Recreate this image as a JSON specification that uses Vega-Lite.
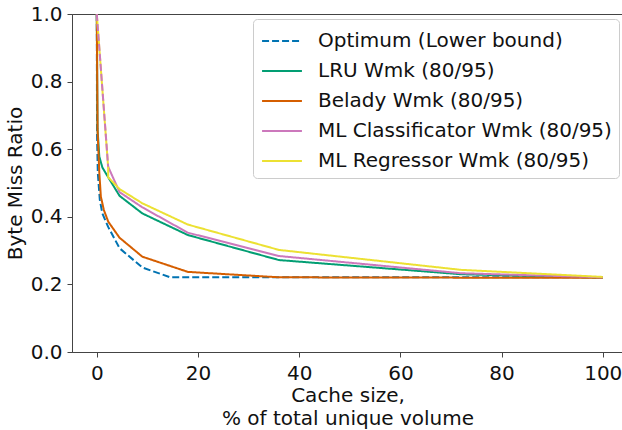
{
  "$schema": "https://vega.github.io/schema/vega-lite/v6.json",
  "width": 551,
  "height": 338,
  "autosize": {"type": "none"},
  "padding": {"left": 72, "top": 14, "right": 0, "bottom": 78},
  "background": "white",
  "config": {
    "font": "DejaVu Sans",
    "view": {"stroke": "#444444", "strokeWidth": 1},
    "axis": {
      "labelFont": "DejaVu Sans",
      "titleFont": "DejaVu Sans",
      "labelFontSize": 20,
      "titleFontSize": 20,
      "titleFontWeight": "normal",
      "labelColor": "#111111",
      "titleColor": "#111111",
      "domainColor": "#444444",
      "tickColor": "#444444",
      "tickSize": 5,
      "grid": false
    },
    "legend": {
      "labelFont": "DejaVu Sans",
      "labelFontSize": 20,
      "labelColor": "#111111",
      "orient": "none",
      "legendX": 181,
      "legendY": 5,
      "padding": 7,
      "rowPadding": 5,
      "fillColor": "rgba(255,255,255,0.8)",
      "strokeColor": "#cccccc",
      "cornerRadius": 4,
      "symbolType": "M-1.45,0H1.45",
      "symbolSize": 756,
      "symbolStrokeWidth": 2,
      "symbolOffset": 7,
      "labelOffset": 21,
      "labelLimit": 400
    }
  },
  "data": {
    "values": [
      {"s": "Optimum (Lower bound)", "p": "main", "i": 0, "x": 0, "y": 1.0},
      {"s": "Optimum (Lower bound)", "p": "main", "i": 1, "x": 0.05, "y": 0.64},
      {"s": "Optimum (Lower bound)", "p": "main", "i": 2, "x": 0.2, "y": 0.53},
      {"s": "Optimum (Lower bound)", "p": "main", "i": 3, "x": 0.6, "y": 0.45},
      {"s": "Optimum (Lower bound)", "p": "main", "i": 4, "x": 1.1, "y": 0.41},
      {"s": "Optimum (Lower bound)", "p": "main", "i": 5, "x": 2.25, "y": 0.37},
      {"s": "Optimum (Lower bound)", "p": "main", "i": 6, "x": 4.5, "y": 0.307},
      {"s": "Optimum (Lower bound)", "p": "main", "i": 7, "x": 9, "y": 0.25},
      {"s": "Optimum (Lower bound)", "p": "main", "i": 8, "x": 14.5, "y": 0.221},
      {"s": "Optimum (Lower bound)", "p": "main", "i": 9, "x": 100, "y": 0.221},

      {"s": "LRU Wmk (80/95)", "p": "main", "i": 0, "x": 0, "y": 1.0},
      {"s": "LRU Wmk (80/95)", "p": "main", "i": 1, "x": 0.14, "y": 0.66},
      {"s": "LRU Wmk (80/95)", "p": "main", "i": 2, "x": 0.5, "y": 0.578},
      {"s": "LRU Wmk (80/95)", "p": "main", "i": 3, "x": 1.1, "y": 0.546},
      {"s": "LRU Wmk (80/95)", "p": "main", "i": 4, "x": 2.25, "y": 0.517},
      {"s": "LRU Wmk (80/95)", "p": "main", "i": 5, "x": 4.5, "y": 0.462},
      {"s": "LRU Wmk (80/95)", "p": "main", "i": 6, "x": 9, "y": 0.41},
      {"s": "LRU Wmk (80/95)", "p": "main", "i": 7, "x": 18, "y": 0.346},
      {"s": "LRU Wmk (80/95)", "p": "main", "i": 8, "x": 36, "y": 0.272},
      {"s": "LRU Wmk (80/95)", "p": "main", "i": 9, "x": 72, "y": 0.23},
      {"s": "LRU Wmk (80/95)", "p": "main", "i": 10, "x": 100, "y": 0.22},

      {"s": "Belady Wmk (80/95)", "p": "main", "i": 0, "x": 0, "y": 1.0},
      {"s": "Belady Wmk (80/95)", "p": "main", "i": 1, "x": 0.15, "y": 0.657},
      {"s": "Belady Wmk (80/95)", "p": "main", "i": 2, "x": 0.5, "y": 0.53},
      {"s": "Belady Wmk (80/95)", "p": "main", "i": 3, "x": 0.8, "y": 0.46},
      {"s": "Belady Wmk (80/95)", "p": "main", "i": 4, "x": 1.4, "y": 0.42},
      {"s": "Belady Wmk (80/95)", "p": "main", "i": 5, "x": 2.25, "y": 0.386},
      {"s": "Belady Wmk (80/95)", "p": "main", "i": 6, "x": 4.5, "y": 0.338},
      {"s": "Belady Wmk (80/95)", "p": "main", "i": 7, "x": 9, "y": 0.282},
      {"s": "Belady Wmk (80/95)", "p": "main", "i": 8, "x": 18, "y": 0.237},
      {"s": "Belady Wmk (80/95)", "p": "main", "i": 9, "x": 36, "y": 0.221},
      {"s": "Belady Wmk (80/95)", "p": "main", "i": 10, "x": 72, "y": 0.22},
      {"s": "Belady Wmk (80/95)", "p": "main", "i": 11, "x": 100, "y": 0.22},

      {"s": "ML Classificator Wmk (80/95)", "p": "main", "i": 0, "x": 2.25, "y": 0.548},
      {"s": "ML Classificator Wmk (80/95)", "p": "main", "i": 1, "x": 4.5, "y": 0.473},
      {"s": "ML Classificator Wmk (80/95)", "p": "main", "i": 2, "x": 9, "y": 0.428},
      {"s": "ML Classificator Wmk (80/95)", "p": "main", "i": 3, "x": 18, "y": 0.353},
      {"s": "ML Classificator Wmk (80/95)", "p": "main", "i": 4, "x": 36, "y": 0.284},
      {"s": "ML Classificator Wmk (80/95)", "p": "main", "i": 5, "x": 72, "y": 0.233},
      {"s": "ML Classificator Wmk (80/95)", "p": "main", "i": 6, "x": 100, "y": 0.221},

      {"s": "ML Regressor Wmk (80/95)", "p": "main", "i": 0, "x": 0, "y": 1.0},
      {"s": "ML Regressor Wmk (80/95)", "p": "main", "i": 1, "x": 2.25, "y": 0.545},
      {"s": "ML Regressor Wmk (80/95)", "p": "main", "i": 2, "x": 2.25, "y": 0.517},
      {"s": "ML Regressor Wmk (80/95)", "p": "main", "i": 3, "x": 4.5, "y": 0.482},
      {"s": "ML Regressor Wmk (80/95)", "p": "main", "i": 4, "x": 9, "y": 0.44},
      {"s": "ML Regressor Wmk (80/95)", "p": "main", "i": 5, "x": 18, "y": 0.377},
      {"s": "ML Regressor Wmk (80/95)", "p": "main", "i": 6, "x": 36, "y": 0.302},
      {"s": "ML Regressor Wmk (80/95)", "p": "main", "i": 7, "x": 72, "y": 0.243},
      {"s": "ML Regressor Wmk (80/95)", "p": "main", "i": 8, "x": 100, "y": 0.222},

      {"s": "ML Classificator Wmk (80/95)", "p": "dash", "i": 0, "x": 0, "y": 1.0},
      {"s": "ML Classificator Wmk (80/95)", "p": "dash", "i": 1, "x": 2.25, "y": 0.548}
    ]
  },
  "layer": [
    {
      "transform": [{"filter": "datum.p === 'main'"}],
      "mark": {"type": "line", "strokeWidth": 2, "clip": true},
      "encoding": {
        "x": {
          "field": "x", "type": "quantitative",
          "scale": {"domain": [-4.9, 104], "nice": false, "zero": false},
          "axis": {"values": [0, 20, 40, 60, 80, 100], "labelPadding": 6, "titlePadding": 2, "titleLineHeight": 23, "title": ["Cache size,", "% of total unique volume"]}
        },
        "y": {
          "field": "y", "type": "quantitative",
          "scale": {"domain": [0, 1], "nice": false},
          "axis": {"values": [0, 0.2, 0.4, 0.6, 0.8, 1.0], "format": ".1f", "labelPadding": 5, "titlePadding": 5, "title": "Byte Miss Ratio"}
        },
        "order": {"field": "i", "type": "quantitative"},
        "color": {
          "field": "s", "type": "nominal",
          "scale": {
            "domain": ["Optimum (Lower bound)", "LRU Wmk (80/95)", "Belady Wmk (80/95)", "ML Classificator Wmk (80/95)", "ML Regressor Wmk (80/95)"],
            "range": ["#0173b2", "#029e73", "#d55e00", "#cc78bc", "#ece133"]
          },
          "legend": {"title": null}
        },
        "strokeDash": {
          "field": "s", "type": "nominal",
          "scale": {
            "domain": ["Optimum (Lower bound)", "LRU Wmk (80/95)", "Belady Wmk (80/95)", "ML Classificator Wmk (80/95)", "ML Regressor Wmk (80/95)"],
            "range": [[7, 3], [1, 0], [1, 0], [1, 0], [1, 0]]
          },
          "legend": {"title": null}
        }
      }
    },
    {
      "transform": [{"filter": "datum.p === 'dash'"}],
      "mark": {"type": "line", "strokeWidth": 2, "color": "#cc78bc", "strokeDash": [7, 3]},
      "encoding": {
        "x": {"field": "x", "type": "quantitative"},
        "y": {"field": "y", "type": "quantitative"},
        "order": {"field": "i", "type": "quantitative"}
      }
    }
  ]
}
